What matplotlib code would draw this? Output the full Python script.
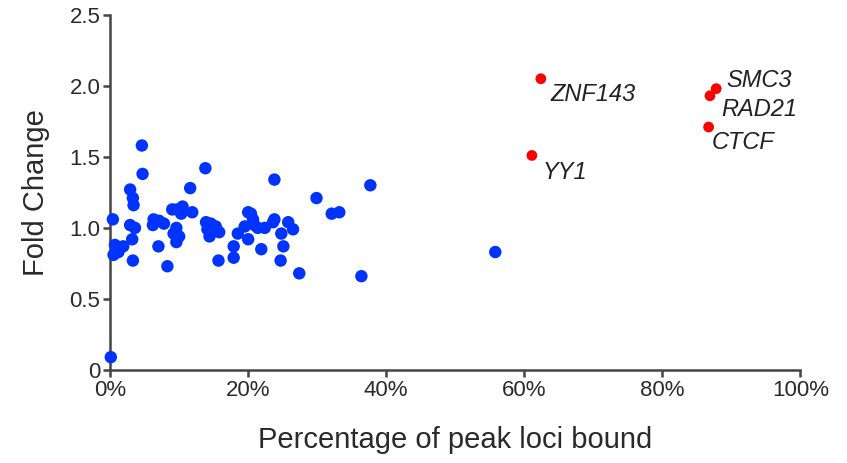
import matplotlib
matplotlib.use("Agg")
from matplotlib import pyplot as plt
from matplotlib.ticker import FuncFormatter

plt.rcParams['font.family'] = ['Liberation Sans', 'DejaVu Sans']

# other factors (blue)
blueX = [4.6, 4.7, 2.9, 3.3, 3.4, 0.4, 2.9, 3.6, 3.2, 0.7, 1.2, 1.9, 0.5, 3.3, 0.1,
         6.3, 7.1, 7.8, 6.2, 7.0, 8.3, 9.0, 9.7, 10.5, 10.3, 11.9, 11.6, 9.6, 9.2,
         10.0, 9.6, 13.8, 13.9, 14.6, 15.3, 14.1, 15.8, 14.4, 15.7, 17.9, 17.9, 18.5,
         20.0, 20.4, 19.5, 20.9, 22.4, 23.6, 23.8, 25.8, 26.5, 24.8, 20.0, 21.9, 25.1,
         24.7, 27.4, 23.8, 37.7, 29.9, 32.1, 33.2, 36.4, 55.8, 20.7, 21.4]
blueY = [1.58, 1.38, 1.27, 1.21, 1.16, 1.06, 1.02, 1.00, 0.92, 0.88, 0.83, 0.87, 0.81, 0.77, 0.09,
         1.06, 1.05, 1.03, 1.02, 0.87, 0.73, 1.13, 1.13, 1.15, 1.10, 1.11, 1.28, 1.00, 0.96,
         0.94, 0.90, 1.42, 1.04, 1.03, 1.01, 0.99, 0.97, 0.94, 0.77, 0.87, 0.79, 0.96,
         1.11, 1.10, 1.01, 1.02, 1.00, 1.04, 1.06, 1.04, 0.99, 0.96, 0.92, 0.85, 0.87,
         0.77, 0.68, 1.34, 1.30, 1.21, 1.10, 1.11, 0.66, 0.83, 1.06, 1.00]

# highlighted factors (red)
redNames = ["ZNF143", "YY1", "SMC3", "RAD21", "CTCF"]
redX = [62.4, 61.1, 87.8, 86.9, 86.7]
redY = [2.05, 1.51, 1.98, 1.93, 1.71]
# label offsets in points
redOffsets = [(7, -11), (8, -12), (7, 6), (8, -10), (2, -11)]

fig = plt.figure(figsize=(8.47, 4.63), dpi=100)
ax = fig.add_axes([0.130, 0.201, 0.815, 0.767])

ax.scatter(blueX, blueY, s=80, color="#0033ff", edgecolors="none", zorder=3, clip_on=False)
ax.scatter(redX, redY, s=60, color="#ff0000", edgecolors="none", zorder=3)
for name, x, y, off in zip(redNames, redX, redY, redOffsets):
    ax.annotate(name, (x, y), xytext=off, textcoords="offset points",
                fontsize=17, style="italic", color="#222222", va="center", ha="left")

ax.set_xlim(0, 100)
ax.set_ylim(0, 2.5)
ax.set_xticks([0, 20, 40, 60, 80, 100])
ax.set_yticks([0, 0.5, 1.0, 1.5, 2.0, 2.5])
ax.xaxis.set_major_formatter(FuncFormatter(lambda v, p: "%d%%" % v))
ax.yaxis.set_major_formatter(FuncFormatter(lambda v, p: "0" if v == 0 else "%.1f" % v))

for side in ["top", "right"]:
    ax.spines[side].set_visible(False)
for side in ["left", "bottom"]:
    ax.spines[side].set_linewidth(1.8)
    ax.spines[side].set_color("#444444")
ax.tick_params(length=5, width=1.8, color="#444444", labelsize=16, labelcolor="#2a2a2a", pad=2)

ax.set_xlabel("Percentage of peak loci bound", fontsize=21, color="#2a2a2a", labelpad=18)
ax.set_ylabel("Fold Change", fontsize=21, color="#2a2a2a", labelpad=14)

plt.savefig("out.png", dpi=100)
